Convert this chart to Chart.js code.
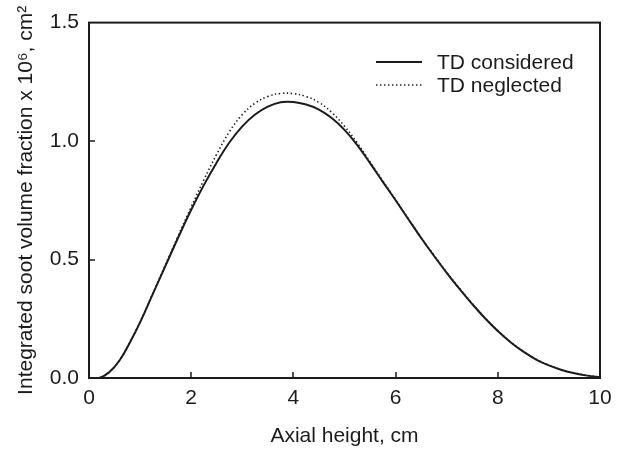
<!DOCTYPE html>
<html>
<head>
<meta charset="utf-8">
<script src="https://cdn.jsdelivr.net/npm/chart.js@4"></script>
<style>
html,body{margin:0;padding:0;background:#fff;}
#wrap{width:621px;height:451px;position:relative;}
</style>
</head>
<body>
<div id="wrap"><canvas id="c" width="621" height="451"></canvas></div>
<script>
const axialHeight = [0, 0.2, 0.4, 0.6, 0.8, 1.0, 1.25, 1.5, 1.75, 2.0, 2.25, 2.5, 2.75, 3.0, 3.25, 3.5, 3.75, 4.0, 4.25, 4.5, 4.75, 5.0, 5.25, 5.5, 5.75, 6.0, 6.25, 6.5, 6.75, 7.0, 7.25, 7.5, 7.75, 8.0, 8.25, 8.5, 8.75, 9.0, 9.25, 9.5, 9.75, 10.0];
const tdConsidered = [0, 0.0, 0.025, 0.075, 0.15, 0.235, 0.355, 0.475, 0.595, 0.71, 0.815, 0.91, 0.995, 1.062, 1.112, 1.145, 1.164, 1.165, 1.154, 1.133, 1.097, 1.047, 0.983, 0.907, 0.828, 0.75, 0.67, 0.591, 0.516, 0.444, 0.376, 0.312, 0.252, 0.198, 0.151, 0.111, 0.078, 0.053, 0.034, 0.02, 0.01, 0.003];
const tdNeglected = [0, 0.0, 0.025, 0.075, 0.151, 0.237, 0.358, 0.48, 0.602, 0.722, 0.837, 0.945, 1.04, 1.112, 1.16, 1.188, 1.201, 1.2, 1.188, 1.163, 1.121, 1.063, 0.992, 0.912, 0.832, 0.753, 0.672, 0.593, 0.518, 0.446, 0.378, 0.314, 0.254, 0.2, 0.152, 0.112, 0.079, 0.054, 0.035, 0.021, 0.011, 0.004];
const seriesNames = ["TD considered", "TD neglected"];
const xTicks = [0, 2, 4, 6, 8, 10];
const yTicks = [0.0, 0.5, 1.0, 1.5];
const xTitle = "Axial height, cm";
const yTitle = "Integrated soot volume fraction x 10\u2076, cm\u00B2";

const FONT = "'Liberation Sans', Arial, Helvetica, sans-serif";
const INK = '#1c1c1c';

function pts(xs, ys){ return xs.map((x,i)=>({x:x, y:ys[i]})); }

const framePlugin = {
  id: 'frame',
  afterDatasetsDraw(chart){
    const {ctx, chartArea:a, scales} = chart;
    ctx.save();
    ctx.strokeStyle = INK;
    ctx.lineWidth = 2;
    ctx.setLineDash([]);
    ctx.strokeRect(a.left, a.top, a.right - a.left, a.bottom - a.top);
    const tl = 6;
    ctx.beginPath();
    scales.x.ticks.forEach(t => {
      if (t.value === scales.x.min || t.value === scales.x.max) return;
      const px = Math.round(scales.x.getPixelForValue(t.value));
      ctx.moveTo(px, a.bottom); ctx.lineTo(px, a.bottom - tl);
    });
    scales.y.ticks.forEach(t => {
      if (t.value === scales.y.min || t.value === scales.y.max) return;
      const py = Math.round(scales.y.getPixelForValue(t.value));
      ctx.moveTo(a.left, py); ctx.lineTo(a.left + tl, py);
    });
    ctx.lineWidth = 1.5;
    ctx.stroke();

    // legend
    const ds = chart.data.datasets;
    const lx0 = 376, lx1 = 422, tx = 437;
    const rows = [62, 85];
    ctx.font = "21px " + FONT;
    ctx.textBaseline = 'middle';
    ctx.fillStyle = INK;
    ds.forEach((d, i) => {
      ctx.beginPath();
      ctx.strokeStyle = d.borderColor;
      ctx.lineWidth = d.borderWidth;
      ctx.setLineDash(d.borderDash || []);
      ctx.moveTo(lx0, rows[i]); ctx.lineTo(lx1, rows[i]);
      ctx.stroke();
      ctx.setLineDash([]);
      ctx.fillText(d.label, tx, rows[i] + 1);
    });
    ctx.restore();
  }
};

new Chart(document.getElementById('c'), {
  type: 'scatter',
  data: {
    datasets: [
      { label: seriesNames[0], data: pts(axialHeight, tdConsidered), showLine: true, borderColor: INK, borderWidth: 2, pointRadius: 0, tension: 0.4, fill: false },
      { label: seriesNames[1], data: pts(axialHeight, tdNeglected), showLine: true, borderColor: INK, borderWidth: 1.6, borderDash: [1.4, 2.6], pointRadius: 0, tension: 0.4, fill: false }
    ]
  },
  options: {
    responsive: false,
    animation: false,
    events: [],
    layout: { padding: { left: 0, right: 21, top: 22, bottom: 0 } },
    plugins: { legend: { display: false }, tooltip: { enabled: false } },
    scales: {
      x: {
        type: 'linear', min: 0, max: 10,
        afterBuildTicks(s){ s.ticks = xTicks.map(v => ({value: v})); },
        afterFit(s){ s.height = 73; },
        grid: { display: false, drawTicks: false },
        border: { display: false },
        ticks: { color: INK, font: { family: FONT, size: 21 }, padding: 8, callback: v => String(v), maxRotation: 0 },
        title: { display: true, text: xTitle, color: INK, font: { family: FONT, size: 21 }, padding: { top: 0, bottom: 2 } }
      },
      y: {
        type: 'linear', min: 0, max: 1.5,
        afterBuildTicks(s){ s.ticks = yTicks.map(v => ({value: v})); },
        afterFit(s){ s.width = 89; },
        grid: { display: false, drawTicks: false },
        border: { display: false },
        ticks: { color: INK, font: { family: FONT, size: 21 }, padding: 10, callback: v => v.toFixed(1) },
        title: { display: true, text: yTitle, color: INK, font: { family: FONT, size: 21 }, padding: { top: 14, bottom: 0 } }
      }
    }
  },
  plugins: [framePlugin]
});
</script>
</body>
</html>
